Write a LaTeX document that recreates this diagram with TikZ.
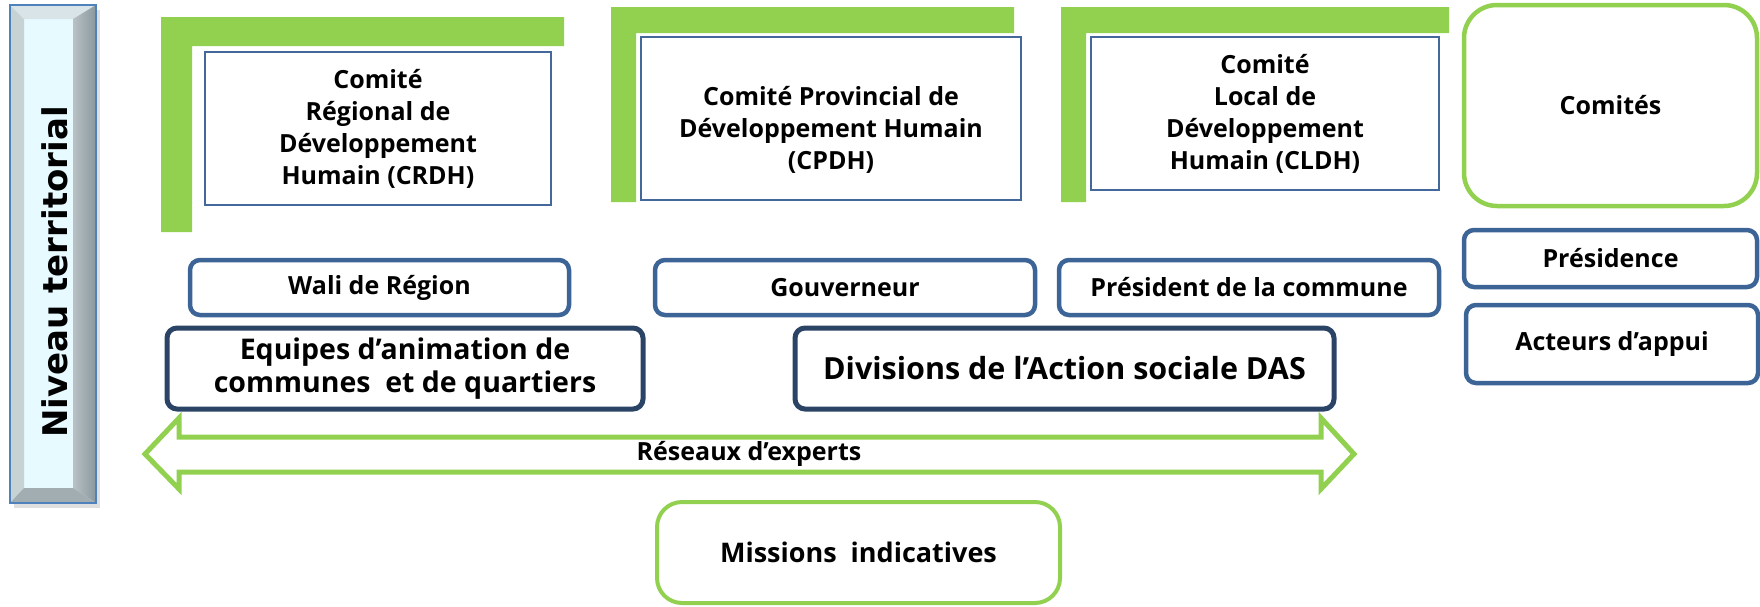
\documentclass[tikz,border=0pt]{standalone}
\usepackage{fontspec}
\setmainfont{Open Sans}
\newfontfamily\nivfont{DejaVu Sans}
\definecolor{lgreen}{HTML}{92D050}
\definecolor{bblue}{HTML}{3C6496}
\definecolor{navy}{HTML}{2B4466}
\definecolor{thinblue}{HTML}{44689B}
\definecolor{barface}{HTML}{E6FAFF}
\definecolor{barblue}{HTML}{4F81BD}
\definecolor{bevlight}{HTML}{D8E4E8}
\definecolor{bevdark}{HTML}{8A989E}
\begin{document}
\begin{tikzpicture}[x=1pt,y=-1pt,
  combox/.style={draw=thinblue, line width=2pt, fill=white, align=center,
    font=\fontsize{25}{32}\selectfont\bfseries, inner sep=0pt},
  comtext/.style={align=center, font=\fontsize{25}{32}\selectfont\bfseries, inner sep=0pt},
  rolebox/.style={draw=bblue, line width=4.5pt, rounded corners=10pt, fill=white,
    align=center, font=\fontsize{25}{30}\selectfont\bfseries, inner sep=0pt},
  teambox/.style={draw=navy, line width=5pt, rounded corners=10pt, fill=white,
    align=center, inner sep=0pt},
  greenbox/.style={draw=lgreen, line width=4.5pt, fill=white, align=center, inner sep=0pt},
  lshape/.style={fill=lgreen, draw=none}
]
\useasboundingbox (0,0) rectangle (1760,606);

% left vertical bar with bevel
\fill[black!25, opacity=0.5] (14,10) rectangle (100,508);
\fill[barface] (10,5) rectangle (96,503);
\fill[bevlight] (10,5) -- (96,5) -- (73,19) -- (24,19) -- cycle;
\fill[bevlight!92!black] (10,5) -- (24,19) -- (24,488) -- (10,503) -- cycle;
\shade[left color=bevdark!60!white, right color=bevdark] (96,5) -- (96,503) -- (73,488) -- (73,19) -- cycle;
\fill[bevdark!80!white] (10,503) -- (96,503) -- (73,488) -- (24,488) -- cycle;
\node[draw=barblue, line width=2pt, minimum width=86pt, minimum height=498pt, inner sep=0pt] (bar) at (53,254) {};
\node[rotate=90, font=\nivfont\fontsize{34}{40}\selectfont\bfseries, inner sep=0pt] (niveau) at (55,272) {Niveau territorial};

% green L shapes
\fill[lshape] (161,17) -- (564,17) -- (564,46) -- (192,46) -- (192,232) -- (161,232) -- cycle;
\fill[lshape] (611,7) -- (1014,7) -- (1014,33) -- (636,33) -- (636,202) -- (611,202) -- cycle;
\fill[lshape] (1061,7) -- (1449,7) -- (1449,33) -- (1086,33) -- (1086,202) -- (1061,202) -- cycle;

% committee boxes
\node[combox, minimum width=346pt, minimum height=153pt] (crdh) at (378,128.5)
  {Comité\\ Régional de\\Développement\\Humain (CRDH)};
\node[combox, minimum width=380pt, minimum height=163pt] (cpdh) at (831,118.5) {};
\node[comtext] (cpdhtext) at (831,129.5)
  {Comité Provincial de\\Développement Humain\\(CPDH)};
\node[combox, minimum width=348pt, minimum height=153pt] (cldh) at (1265,113.5)
  {Comité\\Local de\\Développement\\Humain (CLDH)};
\node[greenbox, rounded corners=33pt, minimum width=293pt, minimum height=201pt,
  font=\fontsize{25}{30}\selectfont\bfseries] (comites) at (1610.5,105.5) {Comités};

% role boxes
\node[rolebox, minimum width=379pt, minimum height=55pt] (wali) at (379.5,287.5) {Wali de Région};
\node[rolebox, minimum width=380pt, minimum height=55pt] (gouv) at (845,287.5) {Gouverneur};
\node[rolebox, minimum width=380pt, minimum height=55pt] (pres) at (1249,287.5) {Président de la commune};
\node[rolebox, minimum width=293pt, minimum height=57pt] (presidence) at (1610.5,258.5) {Présidence};
\node[rolebox, minimum width=292pt, minimum height=78pt] (acteurs) at (1612,344) {Acteurs d’appui};

% team boxes
\node[teambox, minimum width=476pt, minimum height=81pt,
  font=\fontsize{28.5}{33}\selectfont\bfseries] (equipes) at (405,368.5)
  {Equipes d’animation de\\communes\ \ et de quartiers};
\node[teambox, minimum width=539pt, minimum height=81pt,
  font=\fontsize{30.5}{36}\selectfont\bfseries] (das) at (1064.5,368.5)
  {Divisions de l’Action sociale DAS};

% double arrow
\draw[lgreen, line width=5pt, fill=white, line join=miter]
  (145,454) -- (179,418) -- (179,437) -- (1321,437) -- (1321,418) -- (1354,454)
  -- (1321,489) -- (1321,472) -- (179,472) -- (179,489) -- cycle;
\node[font=\fontsize{25}{30}\selectfont\bfseries, inner sep=0pt] (reseaux) at (749,454) {Réseaux d’experts};

% missions
\node[greenbox, line width=4pt, rounded corners=25pt, minimum width=403pt, minimum height=101pt,
  font=\fontsize{27}{32}\selectfont\bfseries] (missions) at (858.5,552.5) {Missions\ \ indicatives};
\end{tikzpicture}
\end{document}
